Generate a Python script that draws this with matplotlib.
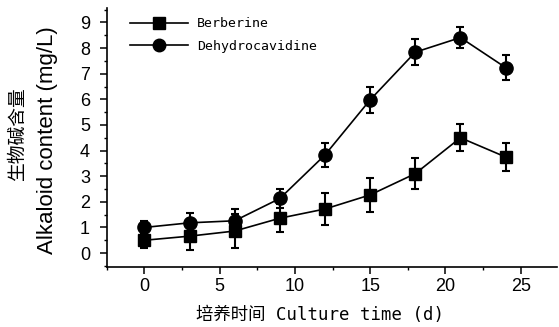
import matplotlib.pyplot as plt
from matplotlib.lines import Line2D
from matplotlib.ticker import MultipleLocator

# culture time (d)
days = [0, 3, 6, 9, 12, 15, 18, 21, 24]

# alkaloid content (mg/L) with error bars
berberine = [0.5, 0.66, 0.86, 1.36, 1.72, 2.27, 3.1, 4.5, 3.75]
berberine_err = [0.3, 0.55, 0.65, 0.55, 0.64, 0.66, 0.6, 0.52, 0.53]
dehydro = [1.0, 1.18, 1.26, 2.13, 3.83, 5.98, 7.84, 8.41, 7.24]
dehydro_err = [0.25, 0.4, 0.45, 0.37, 0.47, 0.5, 0.5, 0.42, 0.5]

labels = ['Berberine', 'Dehydrocavidine']

mono = ['DejaVu Sans Mono', 'Noto Sans CJK SC']
sans = ['Liberation Sans', 'DejaVu Sans']

fig = plt.figure(figsize=(5.59, 3.27), dpi=100)
ax = fig.add_axes([0.191, 0.183, 0.805, 0.793])

ax.errorbar(days, berberine, yerr=berberine_err, color='black', lw=1.2,
            marker='s', ms=8.5, elinewidth=1.5, capsize=3, capthick=1.5)
ax.errorbar(days, dehydro, yerr=dehydro_err, color='black', lw=1.2,
            marker='o', ms=9.5, elinewidth=1.5, capsize=3, capthick=1.5)

ax.set_xlim(-2.5, 27.4)
ax.set_ylim(-0.55, 9.57)
ax.xaxis.set_major_locator(MultipleLocator(5))
ax.xaxis.set_minor_locator(MultipleLocator(2.5))
ax.yaxis.set_major_locator(MultipleLocator(1))
ax.yaxis.set_minor_locator(MultipleLocator(0.5))

for s in ['top', 'right']:
    ax.spines[s].set_visible(False)
for s in ['left', 'bottom']:
    ax.spines[s].set_linewidth(1.2)

ax.tick_params(which='major', length=5, width=1.1, labelsize=13)
ax.tick_params(which='minor', length=2.5, width=1.0)
ax.tick_params(axis='y', pad=7)
ax.tick_params(axis='x', pad=3)
for t in ax.get_xticklabels() + ax.get_yticklabels():
    t.set_family(sans)

# legend shows line + marker only
handles = [Line2D([], [], color='black', lw=1.2, marker='s', ms=8),
           Line2D([], [], color='black', lw=1.2, marker='o', ms=9)]
ax.legend(handles, labels, loc='upper left', bbox_to_anchor=(0.025, 1.01),
          frameon=False, handlelength=4.4, handletextpad=0.7, labelspacing=0.75,
          prop={'family': mono, 'size': 9.5})

ax.set_xlabel('培养时间 Culture time (d)', family=mono, fontsize=12.5)
ax.xaxis.set_label_coords(0.473, -0.15)

fig.text(0.032, 0.59, '生物碱含量', rotation=90, ha='center', va='center',
         family=['Noto Sans CJK SC'], fontsize=13.5)
fig.text(0.085, 0.57, 'Alkaloid content (mg/L)', rotation=90, ha='center',
         va='center', family=sans, fontsize=16)

fig.savefig('out.png', dpi=100)
